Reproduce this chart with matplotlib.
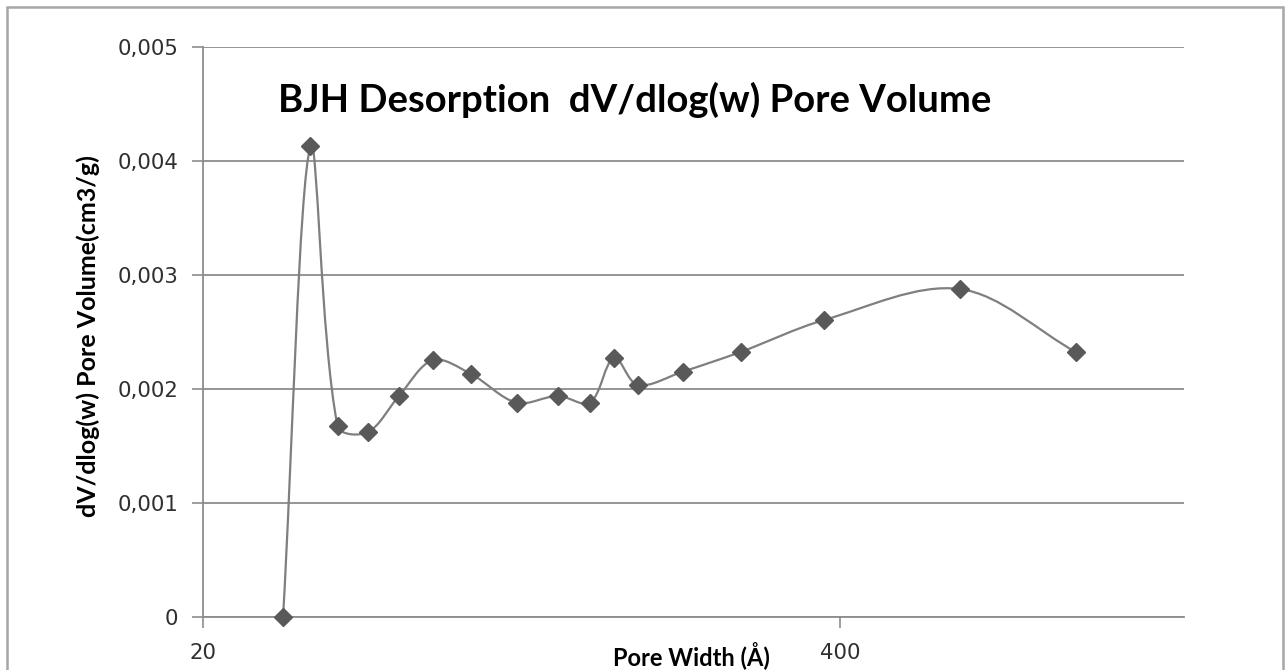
import matplotlib
matplotlib.use("Agg")
import matplotlib.pyplot as plt
from matplotlib.path import Path
from matplotlib.patches import PathPatch, Rectangle
from matplotlib.ticker import FixedLocator, FixedFormatter
import numpy as np

# ---- data ----
pore_width = [29.1, 33.1, 37.6, 43.3, 50.2, 58.9, 70.4, 87.3, 106.0, 123.3,
              138.0, 154.3, 190.6, 250.4, 370.5, 701.4, 1213.8]
pore_volume = [0.0, 0.004132, 0.001675, 0.001620, 0.001939, 0.002254, 0.002132,
               0.001880, 0.001939, 0.001880, 0.002275, 0.002035, 0.002152,
               0.002325, 0.002605, 0.002877, 0.002322]
x_ticks = [20, 400]
x_tick_labels = ["20", "400"]
y_ticks = [0, 0.001, 0.002, 0.003, 0.004, 0.005]
y_tick_labels = ["0", "0,001", "0,002", "0,003", "0,004", "0,005"]
title = "BJH Desorption  dV/dlog(w) Pore Volume"
x_label = "Pore Width (Å)"
y_label = "dV/dlog(w) Pore Volume(cm3/g)"

W, H = 1285, 670
fig = plt.figure(figsize=(W / 100, H / 100), dpi=100)
fig.patch.set_facecolor("white")

left, right, top, bottom = 203.3, 1184.3, 47, 617
ax_w, ax_h = right - left, bottom - top
ax = fig.add_axes([left / W, 1 - bottom / H, ax_w / W, ax_h / H])
ax.set_xscale("log")
ax.set_xlim(20, 2017)
ax.set_ylim(0, 0.005)

grid_c = "#8c8c8c"
for s in ["top", "right"]:
    ax.spines[s].set_visible(False)
ax.spines["left"].set_color(grid_c)
ax.spines["bottom"].set_color(grid_c)
ax.spines["left"].set_linewidth(1.3)
ax.spines["bottom"].set_linewidth(1.3)

ax.yaxis.set_major_locator(FixedLocator(y_ticks))
ax.yaxis.set_major_formatter(FixedFormatter(y_tick_labels))
ax.xaxis.set_major_locator(FixedLocator(x_ticks))
ax.xaxis.set_major_formatter(FixedFormatter(x_tick_labels))
ax.xaxis.set_minor_locator(FixedLocator([]))
ax.tick_params(axis="both", which="major", length=8, width=1.2, color=grid_c,
               labelsize=15.3, labelcolor="#303030", pad=10)
ax.tick_params(axis="x", pad=11)
ax.grid(axis="y", color=grid_c, linewidth=1.3)
ax.set_axisbelow(True)

# smooth line (Excel-style Bezier through the points, computed in pixel-scaled axes space)
pts = (ax.transScale + ax.transLimits).transform(np.column_stack([pore_width, pore_volume]))
scale = np.array([ax_w, ax_h])
P = pts * scale
n = len(P)
verts = [tuple(pts[0])]
codes = [Path.MOVETO]
for i in range(n - 1):
    p0 = P[i - 1] if i > 0 else P[i]
    p1 = P[i]
    p2 = P[i + 1]
    p3 = P[i + 2] if i + 2 < n else P[i + 1]
    d01 = np.hypot(*(p1 - p0))
    d12 = np.hypot(*(p2 - p1))
    d23 = np.hypot(*(p3 - p2))
    f1 = d12 / (d01 + d12) / 3.0 if (d01 + d12) > 0 else 0
    f2 = d12 / (d12 + d23) / 3.0 if (d12 + d23) > 0 else 0
    c1 = p1 + (p2 - p0) * f1
    c2 = p2 - (p3 - p1) * f2
    verts += [tuple(c1 / scale), tuple(c2 / scale), tuple(p2 / scale)]
    codes += [Path.CURVE4] * 3
patch = PathPatch(Path(verts, codes), facecolor="none", edgecolor="#7f7f7f",
                  linewidth=1.6, transform=ax.transAxes, clip_on=False, zorder=3)
ax.add_patch(patch)

ax.plot(pore_width, pore_volume, linestyle="none", marker="D", markersize=9,
        color="#595959", markeredgecolor="#595959", zorder=4, clip_on=False)

# title and labels
fig.text(635 / W, 1 - 100 / H, title, fontsize=27.5, fontweight="bold",
         family="Lato", ha="center", va="center", color="black")
fig.text(691 / W, 1 - 656 / H, x_label, fontsize=17, fontweight="bold",
         family="Lato", ha="center", va="center", color="black")
fig.text(88 / W, 1 - 336 / H, y_label, fontsize=18, fontweight="bold",
         family="Lato", ha="center", va="center", rotation=90, color="black")

# chart outer frame
fig.patches.append(Rectangle((7 / W, -0.05), (1283 - 7) / W, 1 - 7 / H + 0.05,
                             transform=fig.transFigure, facecolor="none",
                             edgecolor="#a6a6a6", linewidth=1.8))

fig.savefig("out.png", dpi=100)
